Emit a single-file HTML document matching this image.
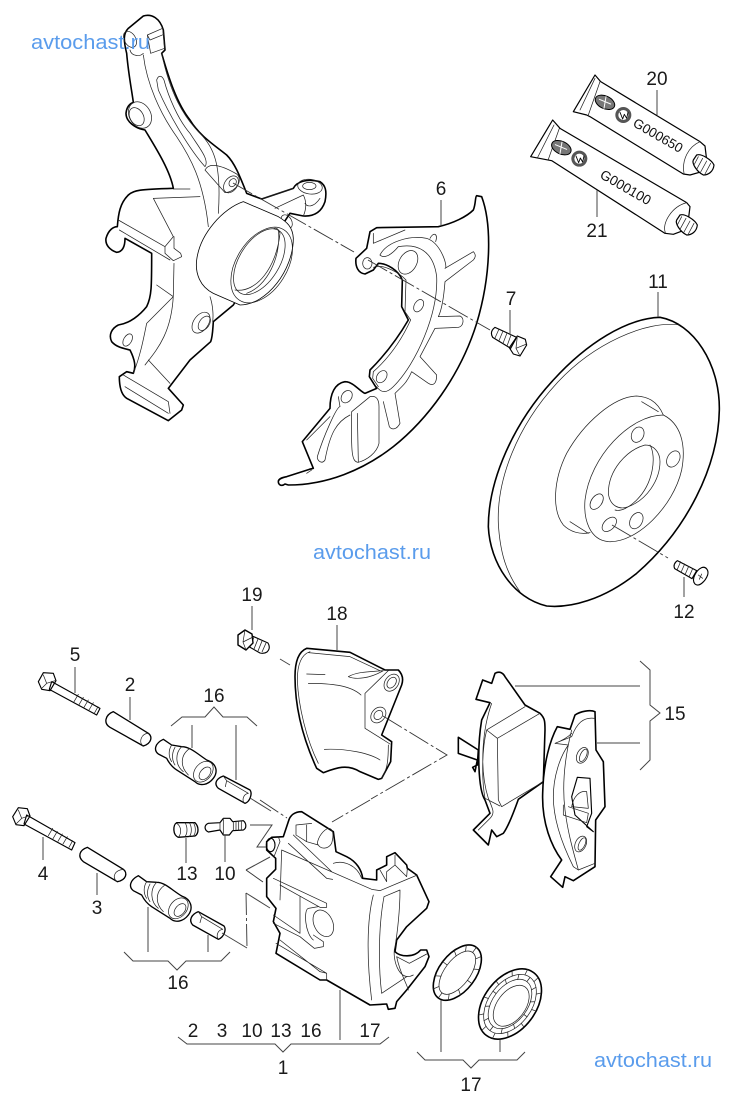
<!DOCTYPE html>
<html><head><meta charset="utf-8"><style>
html,body{margin:0;padding:0;background:#fff}
svg{display:block}
.t{font-family:"Liberation Sans",sans-serif;font-size:19px;fill:#1a1a1a;text-anchor:middle}
.w{font-family:"Liberation Sans",sans-serif;font-size:20px;fill:#5a9cec}
.k{fill:#fff;stroke:#000;stroke-width:4.8;stroke-linejoin:round;stroke-linecap:round}
.n{fill:none;stroke:#222;stroke-width:2.2;stroke-linejoin:round;stroke-linecap:round}
.m{fill:none;stroke:#000;stroke-width:3.4;stroke-linejoin:round;stroke-linecap:round}
.l{fill:none;stroke:#444;stroke-width:1}
.d{fill:none;stroke:#333;stroke-width:.9;stroke-dasharray:22 3 3 3}
</style></head><body>
<svg width="742" height="1103" viewBox="0 0 742 1103" xmlns="http://www.w3.org/2000/svg">
<rect width="742" height="1103" fill="#fff"/>

<!-- knuckle -->
<g transform="translate(90,0) scale(.33333)">
<path class="k" d="M110,160 C100,120 100,100 115,85 L160,48 C185,40 210,55 220,90 L225,150 L215,160 C235,230 260,310 300,360 C330,410 380,440 410,465 C435,490 450,530 470,580 L515,597 L610,565 C620,545 650,535 690,545 C705,555 712,570 705,605 C695,635 675,650 640,648 L600,640 L560,700 L500,800 L430,915 L370,965 C368,990 368,1010 362,1025 L300,1080 L235,1165 L280,1215 L275,1230 L235,1262 L110,1195 C95,1185 88,1165 88,1130 L110,1115 L130,1120 C138,1100 135,1080 120,1050 C100,1045 80,1042 65,1025 C55,1005 65,985 85,975 C120,970 150,945 170,920 C185,890 185,860 185,760 L105,715 C105,735 100,755 80,757 C60,750 45,735 48,715 C55,690 70,680 82,680 C85,640 90,610 115,585 C130,570 150,568 250,565 C240,510 195,440 165,390 C135,385 108,365 108,340 C110,320 120,310 130,307 C125,270 115,220 110,160 Z"/>
<path class="n" d="M160,165 C170,250 210,340 260,410 C300,470 340,540 355,680 M215,160 C240,280 280,350 330,400 C370,440 395,490 385,640"/>
<path class="n" d="M200,240 C205,225 215,225 222,240 C235,290 265,360 300,400 C325,440 360,480 345,500 C300,450 240,350 205,270 Z"/>
<path class="n" d="M120,150 C125,170 150,170 160,160"/>
<ellipse class="n" cx="120" cy="118" rx="17" ry="26" transform="rotate(-30 120 118)"/>
<path class="n" d="M172,105 L218,85 L224,145 L182,160 Z M172,105 L180,120 L222,103"/>
<ellipse class="n" cx="150" cy="345" rx="32" ry="42" transform="rotate(-30 150 345)"/>
<ellipse class="n" cx="140" cy="350" rx="20" ry="29" transform="rotate(-30 140 350)"/>
<path class="n" d="M345,510 C355,490 385,490 440,522 C460,540 440,575 405,578 Z"/>
<ellipse class="n" cx="423" cy="553" rx="19" ry="28" transform="rotate(35 423 553)"/>
<ellipse class="n" cx="428" cy="548" rx="10" ry="13" transform="rotate(35 428 548)"/>
<!-- eye -->
<path class="n" d="M515,597 L610,565 M555,625 L640,585 M640,585 C650,605 650,625 640,648 M690,595 C670,625 650,620 645,610"/>
<ellipse class="n" cx="660" cy="560" rx="37" ry="22" transform="rotate(8 660 560)"/>
<ellipse class="n" cx="658" cy="558" rx="20" ry="11"/>
<ellipse class="n" cx="590" cy="665" rx="15" ry="22" transform="rotate(-30 590 665)"/>
<!-- bearing -->
<path class="k" style="stroke-width:2.4" d="M460,605 C400,625 330,700 320,780 C315,820 330,860 370,880 L450,915 C530,915 610,810 610,715 C608,680 590,665 565,650 Z"/>
<ellipse class="n" cx="515" cy="795" rx="76" ry="125" transform="rotate(32 515 795)"/>
<ellipse class="n" cx="508" cy="785" rx="60" ry="110" transform="rotate(32 508 785)"/>
<path class="n" d="M435,870 C500,880 560,800 570,700 C568,690 560,682 552,685 M470,880 C530,860 575,770 565,690"/>
<!-- web -->
<path class="n" d="M250,567 L300,567 M190,595 L330,590 M190,595 L250,710 L225,740 L225,760 L250,782 L275,770 L272,760 L252,745 L252,710 M85,660 L225,740 M88,690 L240,780 M252,790 L250,885 C245,1000 200,1050 165,1095 M200,855 L250,890 L170,970 C160,1020 150,1070 130,1120 M175,1080 L240,1150 M100,1125 L235,1205 L240,1240 M105,1160 L235,1240 M360,890 C370,920 370,950 368,965"/>
<ellipse class="n" cx="333" cy="968" rx="22" ry="35" transform="rotate(35 333 968)"/>
<ellipse class="n" cx="343" cy="970" rx="15" ry="24" transform="rotate(35 343 970)"/>
<ellipse class="n" cx="113" cy="1020" rx="12" ry="20" transform="rotate(30 113 1020)"/>
</g>

<!-- watermark 1 -->
<text class="w" x="31" y="49" textLength="119" lengthAdjust="spacingAndGlyphs">avtochast.ru</text>

<!-- shield -->
<g transform="translate(270,180) scale(.33333)">
<path class="k" d="M25,905 C25,895 40,892 50,890 L118,868 L130,865 L97,785 L180,685 C180,640 195,610 225,605 C250,605 270,635 285,640 L320,625 L298,590 L300,570 C340,530 380,480 415,420 L395,380 L397,300 C385,270 350,250 325,250 L310,270 L285,282 C265,280 255,260 258,235 L290,205 L300,155 L320,143 L505,140 C550,130 590,110 610,90 C618,70 615,50 620,47 L635,50 C665,130 665,280 620,430 C570,590 470,720 370,800 C280,870 170,915 55,915 L45,912 C35,920 25,915 25,905 Z"/>
<path class="n" d="M310,160 L310,190 L405,150 M330,225 C350,185 420,165 470,175 C515,190 535,265 525,265 L610,215 C620,225 615,235 610,240 L525,305 C520,370 510,400 505,410 L570,408 C585,415 580,440 565,442 L495,445 L450,530 L500,585 C500,610 490,620 475,610 L425,575 C410,610 395,620 375,640 L390,730 C380,750 365,750 358,740 L340,665"/>
<path class="n" d="M330,225 C340,235 360,230 385,200 C440,190 490,210 500,290 C505,400 440,550 370,620 C350,640 335,640 320,620"/>
<path class="n" d="M480,175 C490,155 505,160 497,185"/>
<ellipse class="n" cx="414" cy="247" rx="26" ry="38" transform="rotate(30 414 247)"/>
<ellipse class="n" cx="446" cy="377" rx="13" ry="20" transform="rotate(30 446 377)"/>
<ellipse class="n" cx="335" cy="590" rx="14" ry="20" transform="rotate(35 335 590)"/>
<ellipse class="n" cx="230" cy="650" rx="15" ry="20" transform="rotate(35 230 650)"/>
<ellipse class="n" cx="292" cy="250" rx="14" ry="17"/>
<path class="n" d="M310,262 C340,250 390,280 408,300 L405,395 L422,420 C390,490 350,540 310,575 L308,595 L325,620"/>
<path class="n" d="M245,695 L300,650 C320,645 327,660 327,680 L327,790 C320,820 290,840 265,847 C245,845 243,820 245,695 Z M262,700 L265,845"/>
<path class="n" d="M240,705 C200,725 180,760 165,840 C155,855 140,840 142,830 C160,770 200,680 210,680 L205,650 M110,780 L180,710 M110,880 L125,870"/>
</g>

<!-- tubes -->
<g transform="translate(480,60) scale(.33333)">
<path class="k" style="stroke-width:3.6" d="M345,45 L362,65 L660,245 L675,258 L680,300 L665,335 L630,345 L610,342 L330,170 L320,165 L280,155 Z"/>
<path class="n" d="M360,65 L325,165 M345,55 L300,150 M660,245 C625,260 605,300 612,340"/>
<ellipse class="k" style="stroke-width:3;fill:#777" cx="375" cy="127" rx="31" ry="19" transform="rotate(25 375 127)"/>
<path class="m" style="stroke:#fff;stroke-width:3" d="M358,118 L392,132 M378,110 L372,145"/>
<circle cx="430" cy="165" r="24" fill="#555"/><circle cx="430" cy="165" r="15" fill="#fff"/>
<path class="m" style="stroke-width:2.6" d="M420,157 L428,177 L433,163 L440,175 L444,157"/>
<text transform="translate(456,197) rotate(30)" font-family="Liberation Sans,sans-serif" font-size="40" fill="#111">G000650</text>
<path class="k" style="stroke-width:3.6" d="M650,285 C665,280 695,300 702,315 C700,335 685,345 670,345 C650,335 635,310 640,300 Z"/>
<path class="n" d="M655,290 L642,315 M668,295 L650,328 M680,303 L662,336 M692,310 L675,342"/>

<path class="k" style="stroke-width:3.6" d="M218,180 L240,205 L620,428 L630,440 L625,480 L615,510 L580,523 L555,520 L215,302 L152,290 Z"/>
<path class="n" d="M238,205 L205,298 M222,195 L172,294 M620,428 C575,440 545,490 556,518"/>
<ellipse class="k" style="stroke-width:3;fill:#777" cx="244" cy="263" rx="31" ry="19" transform="rotate(25 244 263)"/>
<path class="m" style="stroke:#fff;stroke-width:3" d="M226,254 L260,268 M246,246 L240,281"/>
<circle cx="298" cy="296" r="24" fill="#555"/><circle cx="298" cy="296" r="15" fill="#fff"/>
<path class="m" style="stroke-width:2.6" d="M288,288 L296,308 L301,294 L308,306 L312,288"/>
<text transform="translate(357,352) rotate(30)" font-family="Liberation Sans,sans-serif" font-size="41" fill="#111">G000100</text>
<path class="k" style="stroke-width:3.6" d="M600,465 C615,460 645,480 652,495 C650,515 635,525 620,525 C600,515 585,490 590,480 Z"/>
<path class="n" d="M605,470 L592,495 M618,475 L600,508 M630,483 L612,516 M642,490 L625,522"/>
</g>
<path class="l" d="M657,90 V115 M597,190 V217"/>

<!-- disc -->
<g transform="translate(480,280) scale(.33333)">
<path class="k" d="M540,112 C640,130 720,250 718,390 C715,560 620,750 470,880 C370,960 270,985 200,978 C100,955 30,850 25,740 C25,600 100,430 220,300 C320,190 440,115 540,112Z"/>
<path class="n" d="M600,135 C500,120 340,190 230,310 C110,440 50,600 55,730 C60,820 80,880 120,935"/>
<path class="n" d="M550,405 C530,360 500,350 470,348 C400,350 310,430 260,520 C220,600 215,690 250,735 C270,755 300,765 330,758"/>
<path class="n" d="M485,365 L535,395 M270,725 L325,760"/>
<path class="n" d="M550,405 C600,430 620,490 605,570 C580,680 470,790 385,785 C330,780 310,720 315,660 C330,530 450,405 550,405Z"/>
<path class="n" d="M495,495 C440,510 385,570 385,640 C390,680 420,690 445,680 C500,660 540,600 540,545 C540,515 520,495 495,495Z"/>
<path class="n" d="M510,495 C530,530 520,610 470,660 C445,685 420,695 405,690"/>
<ellipse class="n" cx="473" cy="464" rx="18" ry="24" transform="rotate(25 473 464)"/>
<ellipse class="n" cx="580" cy="537" rx="18" ry="26" transform="rotate(30 580 537)"/>
<ellipse class="n" cx="469" cy="722" rx="18" ry="26" transform="rotate(30 469 722)"/>
<ellipse class="n" cx="350" cy="665" rx="16" ry="26" transform="rotate(35 350 665)"/>
<ellipse class="n" cx="388" cy="733" rx="16" ry="26" transform="rotate(45 388 733)"/>
<!-- bolt 12 -->
<path class="m" d="M592,842 L650,872 L636,896 L584,866 Q578,852 592,842 Z" fill="#fff"/>
<path class="n" d="M602,845 L592,868 M614,852 L604,875 M626,859 L616,882 M638,866 L628,889"/>
<path class="m" d="M665,863 C677,858 687,870 683,885 C676,905 656,922 645,912 C632,897 650,870 665,863 Z" fill="#fff"/>
<path class="n" d="M655,885 L668,895 M665,882 L658,898"/>
</g>
<path class="l" d="M658,292 V317 M684,577 V597"/>

<!-- bolt 7 -->
<g transform="translate(270,180) scale(.33333)">
<path class="m" d="M675,442 L740,472 L722,505 L668,472 Q658,455 675,442 Z" fill="#fff"/>
<path class="n" d="M687,447 L675,474 M699,453 L687,482 M711,459 L699,490 M723,465 L711,498"/>
<path class="m" d="M742,468 L766,478 L770,495 L750,528 L730,522 L718,503 Z" fill="#fff"/>
<path class="n" d="M742,468 L738,505 L750,528 M738,505 L770,492"/>
</g>
<path class="l" d="M510,310 V335"/>
<path class="l" d="M441,200 V226"/>

<!-- dash lines -->
<path class="d" d="M233,183 L354,252 M368,260 L490,330 M612,525 L668,558"/>

<!-- watermark 2 -->
<text class="w" x="313" y="559" textLength="118" lengthAdjust="spacingAndGlyphs">avtochast.ru</text>

<!-- bolt 19 -->
<path d="M250,635 L268,643 Q271,648 267,652 Q264,654 260,653 L246,645 Z" fill="#fff" stroke="#000" stroke-width="1.1" stroke-linejoin="round"/>
<path d="M254,637 L250,647 M258,639 L254,649 M262,641 L258,651 M266,643 L262,652" fill="none" stroke="#222" stroke-width=".8"/>
<path d="M238,635 L245,630 L252,634 L253,643 L246,650 L238,645 Z" fill="#fff" stroke="#000" stroke-width="1.4" stroke-linejoin="round"/>
<path d="M245,630 L243,642 L246,650 M243,642 L253,637" fill="none" stroke="#222" stroke-width=".7"/>
<path class="l" d="M252,606 V630 M280,659 L290,665"/>

<!-- bracket 18 -->
<g transform="translate(280,600) scale(.33333)">
<path class="k" d="M80,145 L210,157 L315,210 L355,210 C370,225 370,240 365,255 L305,405 L335,425 L332,485 L305,535 L295,538 L240,515 C200,490 165,505 130,518 L110,505 C80,440 45,340 45,230 C45,185 55,155 80,145 Z"/>
<path class="n" d="M90,155 C60,165 52,200 52,240 C55,320 80,420 115,490 M85,158 L210,170 L300,212 M80,222 L135,224 M85,250 C150,250 210,255 243,285 M133,448 C200,445 270,460 300,480 M205,230 C230,215 270,215 310,212 C270,235 230,240 205,230 M325,212 L255,280 L255,385 L330,432 M305,535 C320,510 325,490 325,435"/>
<ellipse class="n" cx="335" cy="248" rx="20" ry="28" transform="rotate(35 335 248)"/>
<ellipse class="n" cx="335" cy="248" rx="12" ry="18" transform="rotate(35 335 248)"/>
<ellipse class="n" cx="295" cy="345" rx="20" ry="26" transform="rotate(40 295 345)"/>
<ellipse class="n" cx="295" cy="345" rx="12" ry="15" transform="rotate(40 295 345)"/>
</g>
<path class="l" d="M337,625 V650"/>
<path class="d" d="M383,716 L447,755 L371,799 M370,800 L332,822"/>

<!-- pads -->
<g transform="translate(440,650) scale(.33333)">
<path class="k" d="M55,262 L115,300 L112,345 L98,352 L105,365 L112,330 L55,310 Z"/>
<path class="k" d="M165,70 C180,62 190,70 195,80 L255,165 L300,190 C315,205 315,215 315,240 L310,395 L235,448 C220,490 205,530 190,550 L170,560 L155,540 L145,585 L100,540 L150,490 L135,450 C115,420 110,300 125,210 L150,158 L108,148 L128,90 L155,100 Z"/>
<path class="n" d="M155,160 C130,230 115,350 145,445 C160,480 165,490 150,505 L115,540 M255,170 L140,240 L172,265 L300,190 M172,265 L175,450 L185,470 L310,395 M140,240 C125,300 125,390 135,445 L180,468"/>
<path class="k" d="M405,195 C420,185 450,178 465,185 L468,300 L490,335 L495,470 L467,510 L465,650 L400,692 L375,680 L368,712 L332,680 L365,630 C335,590 305,520 308,430 C310,340 330,270 352,230 L390,238 Z"/>
<path class="n" d="M465,205 C430,200 410,220 395,260 L345,280 L385,285 C360,320 340,380 340,440 C340,520 375,600 400,650 L415,660 L465,640 M395,240 C375,320 365,400 375,480 C385,560 405,620 415,660 M345,280 C370,270 385,260 395,250"/>
<ellipse class="n" cx="427" cy="316" rx="16" ry="25" transform="rotate(25 427 316)"/>
<ellipse class="n" cx="422" cy="582" rx="16" ry="25" transform="rotate(25 422 582)"/>
<ellipse class="n" cx="430" cy="316" rx="9" ry="20" transform="rotate(25 430 316)"/>
<ellipse class="n" cx="426" cy="582" rx="9" ry="20" transform="rotate(25 426 582)"/>
<path class="m" d="M412,382 L450,385 L455,490 L440,530 L460,545 L405,495 L395,440 Z"/>
<path class="n" d="M395,470 C400,440 420,420 440,425 L445,475 L395,470 M370,465 L370,495 L440,518 L445,490 L385,470"/>
</g>
<path class="l" d="M515,686 H640 M597,743 H640 M640,661 L650,670 V705 L660,713 L650,721 V760 L640,770"/>

<!-- left parts -->
<g transform="translate(0,650) scale(.33333)">
<!-- bolt 5 -->
<path class="m" d="M155,95 L300,175 L290,195 L148,118 Z" fill="#fff"/>
<path class="n" d="M235,133 L222,155 M250,142 L237,164 M265,150 L252,172 M280,158 L267,180 M294,170 L283,190"/>
<path class="m" d="M130,68 L160,70 L168,92 L150,122 L125,118 L115,95 Z" fill="#fff"/>
<path class="n" d="M130,75 L140,100 L125,115 M140,100 L165,92"/>
<!-- sleeve 2 -->
<path class="k" style="stroke-width:4" d="M340,185 L445,250 C458,260 455,280 430,288 L330,232 C310,220 315,195 340,185 Z"/>
<path class="n" d="M445,250 C425,250 415,275 428,287"/>
<!-- guide 16 top -->
<path class="k" style="stroke-width:4" d="M490,268 L515,285 L545,290 C570,290 590,310 620,330 C650,340 655,365 640,385 C625,405 600,410 585,395 L530,360 C515,350 505,335 500,325 L475,312 C460,300 465,280 490,268 Z"/>
<ellipse class="n" cx="610" cy="365" rx="25" ry="35" transform="rotate(40 610 365)"/>
<ellipse class="n" cx="615" cy="370" rx="14" ry="22" transform="rotate(40 615 370)"/>
<path class="n" d="M515,285 C505,300 505,320 515,335 M525,292 C515,310 515,330 525,345 M545,290 C525,310 525,345 550,365 M570,295 C540,315 540,350 565,375"/>
<!-- sleeve top -->
<path class="k" style="stroke-width:4" d="M670,378 L750,420 C758,430 750,455 735,460 L655,415 C640,400 650,385 670,378 Z"/>
<path class="n" d="M670,378 L680,392 L745,430 C730,432 725,450 733,460 M680,392 L676,410"/>
<!-- bolt 4 -->
<path class="m" d="M80,495 L225,578 L215,600 L72,522 Z" fill="#fff"/>
<path class="n" d="M158,535 L145,557 M172,544 L159,566 M187,552 L174,574 M202,560 L189,582 M218,572 L207,592"/>
<path class="m" d="M55,473 L82,476 L90,498 L72,527 L48,524 L38,500 Z" fill="#fff"/>
<path class="n" d="M55,480 L65,505 L48,522 M65,505 L88,497"/>
<!-- sleeve 3 -->
<path class="k" style="stroke-width:4" d="M262,592 L370,658 C383,668 380,690 352,695 L250,635 C232,620 238,600 262,592 Z"/>
<path class="n" d="M370,658 C345,660 335,680 350,695"/>
<!-- guide bottom -->
<path class="k" style="stroke-width:4" d="M415,677 L440,695 L470,697 C495,697 515,720 545,738 C575,748 580,775 565,795 C550,815 525,820 510,805 L455,770 C440,760 430,745 425,735 L400,722 C385,710 390,690 415,677 Z"/>
<ellipse class="n" cx="535" cy="775" rx="25" ry="35" transform="rotate(40 535 775)"/>
<ellipse class="n" cx="540" cy="780" rx="14" ry="22" transform="rotate(40 540 780)"/>
<path class="n" d="M440,695 C430,710 430,730 440,745 M450,702 C440,720 440,740 450,755 M470,697 C450,717 450,755 475,775 M495,705 C465,725 465,760 490,785"/>
<!-- sleeve bottom -->
<path class="k" style="stroke-width:4" d="M595,785 L672,828 C680,838 672,862 655,868 L578,825 C565,810 575,793 595,785 Z"/>
<path class="n" d="M595,785 L605,800 L668,838 C652,840 648,858 655,868 M605,800 L600,818"/>
<!-- 13 -->
<path class="k" style="stroke-width:4" d="M530,518 L585,518 C597,530 597,550 585,558 L535,562 C518,555 518,525 530,518 Z"/>
<path class="n" d="M530,520 C545,530 545,550 535,562 M555,518 C563,530 563,550 555,560 M568,518 C576,530 576,550 568,560 M580,518 C588,530 588,550 580,558"/>
<!-- 10 -->
<path class="k" style="stroke-width:3.6" d="M625,520 L660,518 L670,505 L690,505 L698,515 L730,512 C740,520 740,535 730,540 L698,542 L688,555 L670,555 L660,540 L625,546 C612,540 612,525 625,520 Z"/>
<path class="n" d="M700,515 V540 M708,514 V540 M716,513 V540 M724,513 V540 M670,505 V555 M660,518 V540"/>
</g>
<path class="l" d="M43,837 V860 M97,873 V895 M75,667 V693 M130,697 V720 M186,838 V863 M225,835 V862 M148,907 V952 M208,935 V952"/>
<path class="l" d="M192,725 V748 M236,725 V780"/>
<path class="l" d="M171,726 L182,717 L205,717 L214,707 L223,717 L247,717 L257,726"/>
<path class="l" d="M124,952 L133,961 L168,961 L177,970 L186,961 L221,961 L230,952"/>
<path class="l" d="M250,798 L271,811 M250,825 H272 L257,847 H270 M270,857 L246,870 M222,933 L247,948 M246,893 L270,908"/>
<path class="d" d="M246,870 L263,882 M246,893 L247,948"/>
<path class="d" d="M260,800 L287,818"/>

<!-- caliper -->
<g transform="translate(260,800) scale(.33333)">
<path class="k" d="M85,65 C90,45 105,35 125,35 L220,95 L228,155 L260,170 C290,185 305,210 308,235 L350,240 L350,210 L380,195 L380,170 L405,158 L440,195 L442,205 L470,225 L507,305 L500,325 L440,380 L410,420 L405,455 C420,470 460,475 482,450 L500,450 L507,470 L495,500 L440,570 L410,605 L405,625 L385,628 L380,612 L330,615 L200,540 L180,540 L48,460 L60,400 L40,365 L48,325 L20,290 L20,235 L47,208 L47,175 L20,150 L20,125 L35,112 L70,110 Z"/>
<path class="n" d="M108,75 L155,70 M108,75 L108,105 L140,125 L140,75 M140,125 L175,135 M172,130 C175,110 190,90 205,85 C220,85 222,105 215,130 C205,148 180,150 172,130 Z"/>
<path class="n" d="M100,105 L215,215 M85,130 L200,235 L218,238 M65,150 L335,268 L360,272 L472,225 M220,190 C250,180 290,195 305,235 M65,150 L60,300"/>
<path class="n" d="M340,285 C320,360 320,480 335,600 M372,290 L420,270 C420,330 412,400 405,440 C395,470 415,550 460,525 M372,290 C355,380 355,500 365,580 L440,530"/>
<path class="n" d="M380,245 L360,210 M380,245 L380,215 L405,195 L440,230 L442,205 M405,195 L405,165"/>
<path class="n" d="M40,235 L200,310 L200,322 L180,322 L60,255 M40,345 L120,400 L120,290 M40,370 L120,410 L163,445 L190,440 L190,425 L160,405"/>
<path class="n" d="M145,325 C130,330 135,400 160,420 M145,325 L175,320"/>
<ellipse class="n" cx="190" cy="370" rx="28" ry="42" transform="rotate(-25 190 370)"/>
<path class="n" d="M48,430 L200,520 L200,540 M60,420 L180,515 L200,520 M410,470 L448,490 L500,462 M410,470 C420,520 440,550 445,570"/>
<ellipse class="m" cx="32" cy="135" rx="13" ry="20" fill="#fff"/>
<path class="n" d="M55,110 L60,125 L42,170"/>
</g>
<path class="l" d="M340,990 V1040"/>

<!-- seals -->
<g transform="translate(410,920) scale(.33333)">
<g transform="translate(142,158) rotate(37)">
<ellipse class="k" rx="55" ry="95"/>
<ellipse class="n" rx="38" ry="76"/>
<path class="n" d="M55,0 L38,0 M48,48 L33,38 M28,82 L19,66 M0,95 L0,76 M-28,82 L-19,66 M-48,48 L-33,38 M-55,0 L-38,0 M-48,-48 L-33,-38 M-28,-82 L-19,-66 M0,-95 L0,-76 M28,-82 L19,-66 M48,-48 L33,-38"/>
</g>
<g transform="translate(300,252) rotate(37)">
<ellipse class="k" rx="78" ry="118"/>
<ellipse class="n" rx="64" ry="100"/>
<ellipse class="n" rx="52" ry="84"/>
<ellipse class="n" cx="6" cy="2" rx="42" ry="70"/>
<path class="n" d="M75,30 L62,26 M55,83 L45,71 M20,114 L17,97 M-20,114 L-17,97 M-55,83 L-45,71 M-75,30 L-62,26 M-75,-30 L-62,-26 M-55,-83 L-45,-71 M-20,-114 L-17,-97 M20,-114 L17,-97 M55,-83 L45,-71 M75,-30 L62,-26"/>
<path class="n" d="M64,0 L52,0 M55,50 L45,42 M32,87 L26,73 M0,100 L0,84 M-32,87 L-26,73 M-55,50 L-45,42 M-64,0 L-52,0 M-55,-50 L-45,-42 M-32,-87 L-26,-73 M0,-100 L0,-84 M32,-87 L26,-73 M55,-50 L45,-42"/>
</g>
</g>
<path class="l" d="M441,1000 V1052 M500,1040 V1052 M417,1052 L425,1060 H463 L471,1068 L479,1060 H517 L525,1052"/>
<path class="l" d="M178,1037 L187,1044 H275 L283,1052 L291,1044 H380 L389,1037"/>

<!-- labels -->
<g>
<text class="t" x="441" y="195">6</text>
<text class="t" x="511" y="305">7</text>
<text class="t" x="658" y="288">11</text>
<text class="t" x="657" y="85">20</text>
<text class="t" x="597" y="237">21</text>
<text class="t" x="684" y="618">12</text>
<text class="t" x="252" y="601">19</text>
<text class="t" x="337" y="620">18</text>
<text class="t" x="75" y="661">5</text>
<text class="t" x="130" y="691">2</text>
<text class="t" x="214" y="702">16</text>
<text class="t" x="675" y="720">15</text>
<text class="t" x="187" y="880">13</text>
<text class="t" x="225" y="880">10</text>
<text class="t" x="43" y="880">4</text>
<text class="t" x="97" y="914">3</text>
<text class="t" x="178" y="989">16</text>
<text class="t" x="193" y="1037">2</text>
<text class="t" x="222" y="1037">3</text>
<text class="t" x="252" y="1037">10</text>
<text class="t" x="281" y="1037">13</text>
<text class="t" x="311" y="1037">16</text>
<text class="t" x="370" y="1037">17</text>
<text class="t" x="283" y="1074">1</text>
<text class="t" x="471" y="1091">17</text>
</g>

<!-- watermark 3 -->
<text class="w" x="594" y="1067" textLength="118" lengthAdjust="spacingAndGlyphs">avtochast.ru</text>
</svg>
</body></html>
